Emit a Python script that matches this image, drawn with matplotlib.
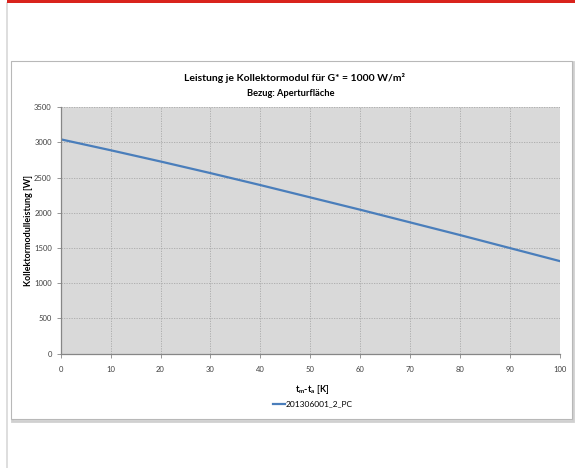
import matplotlib.pyplot as plt
from matplotlib.patches import Rectangle
from matplotlib.lines import Line2D

plt.rcParams["font.family"] = ["Lato", "DejaVu Sans"]
plt.rcParams["mathtext.fontset"] = "custom"
plt.rcParams["mathtext.rm"] = "Lato:bold"
plt.rcParams["mathtext.it"] = "Lato:bold"
plt.rcParams["mathtext.bf"] = "Lato:bold"

# temperature difference tm - ta [K] and module power [W]
dt_k = [0, 10, 20, 30, 40, 50, 60, 70, 80, 90, 100]
power_w = [3045, 2890, 2730, 2565, 2395, 2220, 2045, 1865, 1685, 1500, 1315]
series_name = "201306001_2_PC"

x_ticks = list(range(0, 101, 10))
y_ticks = list(range(0, 3501, 500))

W, H = 575, 468
fig = plt.figure(figsize=(W / 100, H / 100), dpi=100)

# page decoration: red bar on top, grey margin line, chart box
fig.patches.append(Rectangle((7 / W, 1 - 3 / H), 1, 3 / H, transform=fig.transFigure,
                             facecolor="#d9231c", edgecolor="none", zorder=-5))
fig.lines.append(Line2D([7 / W, 7 / W], [0, 1 - 3 / H], transform=fig.transFigure,
                        color="#d8d8d8", lw=1.2, zorder=-5))
fig.patches.append(Rectangle((12 / W, 1 - 421 / H), 561 / W, 359 / H, transform=fig.transFigure,
                             facecolor="none", edgecolor="#d0d0d0", lw=2.0, zorder=-6))
fig.patches.append(Rectangle((11 / W, 1 - 419 / H), 561 / W, 358 / H, transform=fig.transFigure,
                             facecolor="white", edgecolor="#b8b8b8", lw=0.8, zorder=-5))

ax = fig.add_axes([60.7 / W, 1 - 353.6 / H, 499 / W, 246.3 / H])
ax.set_facecolor("#d9d9d9")
ax.plot(dt_k, power_w, color="#4a7ebb", lw=1.6, label=series_name)

ax.set_xlim(0, 100)
ax.set_ylim(0, 3500)
ax.set_xticks(x_ticks)
ax.set_yticks(y_ticks)
ax.grid(True, color="#a8a8a8", ls=(0, (1.5, 1.5)), lw=0.6)
ax.set_axisbelow(True)
for s in ["top", "right"]:
    ax.spines[s].set_visible(False)
for s in ["left", "bottom"]:
    ax.spines[s].set_color("#868686")
    ax.spines[s].set_linewidth(0.9)
ax.tick_params(axis="both", labelsize=5.5, labelcolor="#404040", color="#868686",
               length=3, width=0.6, direction="out")
ax.tick_params(axis="x", pad=6)

ax.set_xlabel("t$_m$-t$_a$ [K]", fontsize=6.5, fontweight="bold")
ax.xaxis.set_label_coords((312 - 60.7) / 499, -(383 - 353.6) / 246.3)
ax.set_ylabel("Kollektormodulleistung [W]", fontsize=6.5, fontweight="bold")
ax.yaxis.set_label_coords(-(60.7 - 33) / 499, 0.5)

fig.text(295 / W, 1 - 78 / H, "Leistung je Kollektormodul für G* = 1000 W/m²",
         ha="center", va="center", fontsize=7.5, fontweight="bold")
fig.text(291 / W, 1 - 93 / H, "Bezug: Aperturfläche",
         ha="center", va="center", fontsize=6.7, fontweight="bold")

ax.legend(loc="center", bbox_to_anchor=(313 / W, 1 - 404 / H), bbox_transform=fig.transFigure,
          frameon=False, fontsize=6, handlelength=1.4, handletextpad=0.1)

fig.savefig("out.png", dpi=100)
